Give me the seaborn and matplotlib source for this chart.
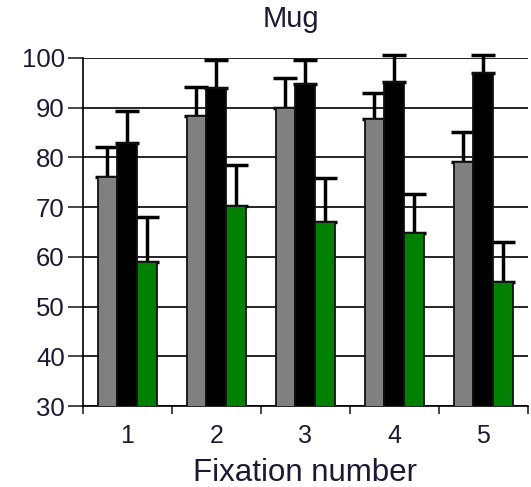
import matplotlib
matplotlib.use("Agg")
import matplotlib.pyplot as plt
import seaborn as sns
import pandas as pd
import numpy as np

fixations = ["1", "2", "3", "4", "5"]
groups = ["A", "B", "C"]
means_a = [76, 88.3, 90, 87.7, 79]
means_b = [83, 94, 94.8, 95.2, 97]
means_c = [59, 70.2, 67, 64.8, 55]
err_a = [6.1, 5.9, 6.0, 5.3, 6.1]
err_b = [6.3, 5.6, 4.8, 5.4, 3.6]
err_c = [9.0, 8.3, 8.9, 7.8, 8.0]
colors = ["#808080", "#000000", "#008000"]

sns.set_style("white")
plt.rcParams['font.family'] = ['Liberation Sans', 'DejaVu Sans']

rows = []
for g, m in zip(groups, [means_a, means_b, means_c]):
    for f, v in zip(fixations, m):
        rows.append({"Fixation": f, "Group": g, "Value": v})
df = pd.DataFrame(rows)

fig = plt.figure(figsize=(5.31, 4.87), dpi=100)
ax = fig.add_axes([0.156, 0.166, 0.838, 0.715])

sns.barplot(data=df, x="Fixation", y="Value", hue="Group", hue_order=groups,
            order=fixations, palette=colors, saturation=1, width=0.67, errorbar=None,
            edgecolor="#111111", linewidth=1.3, ax=ax, legend=False, zorder=3)

errs = {"A": err_a, "B": err_b, "C": err_c}
for container, g in zip(ax.containers, groups):
    xs = [p.get_x() + p.get_width() / 2 for p in container.patches]
    hs = [p.get_height() + p.get_y() for p in container.patches]
    e = errs[g]
    ax.errorbar(xs, hs, yerr=[np.zeros(len(e)), e], fmt="none", ecolor="black",
                elinewidth=2.5, capsize=8.5, capthick=2.5, clip_on=False, zorder=2)

ax.set_ylim(30, 100)
ax.set_xlim(-0.5, 4.5)
ax.set_yticks(range(30, 101, 10))
ax.yaxis.grid(True, color="black", linewidth=1.2, zorder=0)
ax.set_axisbelow(True)
ax.set_xticks(np.arange(-0.5, 4.6, 1.0), minor=True)
ax.set_xticks(range(5))
ax.set_xticklabels(fixations)
ax.tick_params(axis="x", which="major", length=0, labelsize=18, pad=13, labelcolor="#1a1a33")
ax.tick_params(axis="x", which="minor", length=6, width=1.2, direction="out", bottom=True)
ax.tick_params(axis="y", length=11, width=1.2, direction="out", labelsize=18.5, pad=2, labelcolor="#1a1a33", left=True)

for s in ["top", "right"]:
    ax.spines[s].set_visible(False)
for s in ["left", "bottom"]:
    ax.spines[s].set_color("black")
    ax.spines[s].set_linewidth(1.2)

ax.set_xlabel("Fixation number", fontsize=22.5, color="#1a1a33", labelpad=7)
ax.set_ylabel("")
ax.set_title("Mug", fontsize=21, color="#1a1a33", pad=22, x=0.467)

fig.savefig("out.png", dpi=100)
